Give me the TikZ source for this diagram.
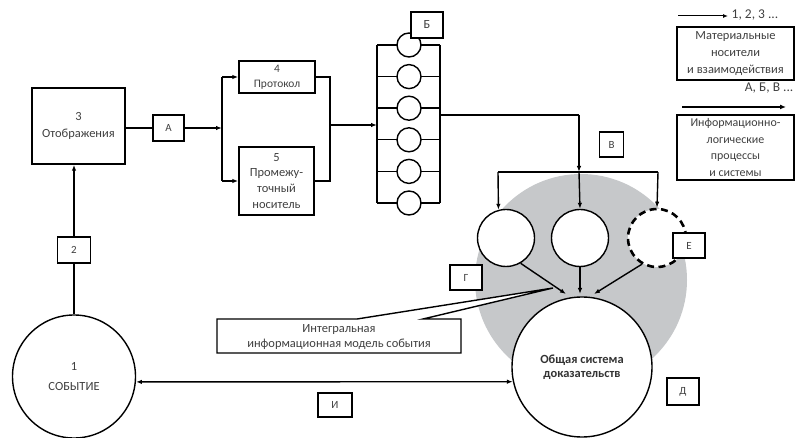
\documentclass[tikz,border=0pt]{standalone}
\usepackage{fontspec}
\setmainfont{Carlito}
\usetikzlibrary{arrows.meta}
\definecolor{discgray}{RGB}{198,200,202}
\begin{document}
\begin{tikzpicture}[x=1bp,y=-1bp,
  line width=1.4bp,
  box/.style={draw, fill=white, align=center, inner sep=1pt, font=\fontsize{12.5}{16}\selectfont, text=black!75},
  lbl/.style={draw, fill=white, minimum width=32bp, minimum height=26bp, inner sep=0pt, font=\fontsize{11}{12}\selectfont, text=black!75},
  circ/.style={draw, circle, fill=white, inner sep=0pt},
  arr/.style={-{Latex[length=6bp,width=4.5bp]}},
]
\useasboundingbox (0,0) rectangle (796,438);
% gray disc
\fill[discgray] (581,280) circle[radius=106bp];

% box 3
\node[box, minimum width=93bp, minimum height=76bp, font=\fontsize{12.5}{17}\selectfont] (b3) at (78.5,126) {3\\Отображения};
\node[lbl, minimum width=31bp] (bA) at (168.5,128) {А};
\node[box, minimum width=76bp, minimum height=32bp, font=\fontsize{11.5}{15}\selectfont] (b4) at (277,77) {4\\Протокол};
\node[box, minimum width=75bp, minimum height=68bp] (b5) at (276.5,181) {5\\Промежу-\\точный\\носитель};
\coordinate (jA) at (222,128);
\coordinate (j4) at (222,77);
\coordinate (j5) at (222,181);
\draw (b3.east |- bA) -- (bA.west);
\draw[arr] (bA.east) -- (jA);
\draw (j4) -- (j5);
\draw[arr] (j4) -- (b4.west);
\draw[arr] (j5) -- (b5.west);
\coordinate (k4) at (330,77);
\coordinate (k5) at (330,181);
\coordinate (kM) at (330,125);
\coordinate (ladIn) at (377,125);
\draw (b4.east) -- (k4) -- (k5) -- (b5.east);
\draw[arr] (kM) -- (ladIn);

% ladder
\coordinate (lt) at (377,45);
\coordinate (lb) at (377,203);
\coordinate (rt) at (440,45);
\coordinate (rb) at (440,203);
\draw (lt) -- (lb);
\draw (rt) -- (rb);
\foreach \i in {0,...,5} {
  \pgfmathsetmacro\yy{45+31.6*\i}
  \draw (377,\yy) -- (440,\yy);
  \node[circ, minimum size=24bp] (r\i) at (409,\yy) {};
}
\node[lbl, font=\fontsize{12.5}{13}\selectfont] (bB) at (427,25) {Б};

% output of ladder
\coordinate (lo) at (440,115);
\coordinate (lc) at (579,115);
\coordinate (jM) at (579,172);
\coordinate (jL) at (498,172);
\coordinate (jR) at (658,172);
\draw (lo) -- (lc);
\draw[arr] (lc) -- (jM);
\draw (jL) -- (jR);
\node[lbl, minimum width=24bp, minimum height=25bp] (bV) at (611.5,144.5) {В};

% small circles
\node[circ, minimum size=57bp] (cL) at (506,238) {};
\node[circ, minimum size=57bp] (cM) at (580,238) {};
\node[circ, minimum size=58bp, line width=2.6bp, dash pattern=on 7bp off 4.5bp] (cE) at (657,238) {};
\draw[arr] (jL) -- (cL.105);
\draw[arr] (jM) -- (cM.north);
\draw[arr] (jR) -- (cE.north);
\node[lbl, minimum width=32bp, minimum height=25bp] (bE) at (689,245.5) {Е};
\node[lbl, minimum width=32bp, minimum height=25bp] (bG) at (466,277.5) {Г};

% big circle D
\node[circ, minimum size=140bp, font=\bfseries\fontsize{12.5}{14}\selectfont, align=center, text=black!80] (D) at (582,367) {Общая система\\доказательств};
\coordinate (tL) at (566,294);
\coordinate (tM) at (580,294);
\coordinate (tR) at (594,294);
\draw[arr] (cL.-60) -- (tL);
\draw[arr] (cM.south) -- (tM);
\draw[arr] (cE.-120) -- (tR);
\node[lbl, minimum width=32bp, minimum height=27bp] (bD) at (683,391.5) {Д};

% callout
\coordinate (cp) at (553,288);
\draw[fill=white] (217,319) -- (357,319) -- (cp) -- (423,319) -- (461,319) -- (461,353) -- (217,353) -- cycle;
\node[align=center, font=\fontsize{12.5}{16}\selectfont, text=black!75] (int) at (339,337) {Интегральная\\информационная модель события};

% event circle
\node[circ, minimum size=123bp, align=center, font=\fontsize{12.5}{20}\selectfont, text=black!75] (c1) at (74,376.5) {1\\СОБЫТИЕ};
\node[lbl, minimum width=33bp, minimum height=26bp] (b2) at (74,250) {2};
\draw (c1.north) -- (b2.south);
\draw[arr] (b2.north) -- (b2.north |- b3.south);
\draw[{Latex[length=6bp,width=4.5bp]}-{Latex[length=6bp,width=4.5bp]}] (c1.-5) -- (D.192);
\node[lbl, minimum width=34bp, minimum height=24bp] (bI) at (335,405) {И};

% legend
\coordinate (la1) at (678,16);
\coordinate (la2) at (728,16);
\draw[line width=1bp, -{Latex[length=5bp,width=4bp]}] (la1) -- (la2);
\node[anchor=west, inner sep=0pt, font=\fontsize{13.5}{15}\selectfont, text=black!75] (l1t) at (731,15) {1, 2, 3 ...};
\node[draw, align=center, inner sep=0pt, minimum width=117bp, minimum height=53bp, font=\fontsize{12.5}{17}\selectfont, text=black!75] (lg1) at (735.5,53.5) {Материальные\\носители\\и взаимодействия};
\node[anchor=east, inner sep=0pt, font=\fontsize{13.5}{15}\selectfont, text=black!75] (l2t) at (794,88) {А, Б, В ...};
\coordinate (lb1) at (682,107);
\coordinate (lb2) at (786,107);
\draw[line width=2bp, -{Latex[length=6bp,width=5bp]}] (lb1) -- (lb2);
\node[draw, align=center, inner sep=0pt, minimum width=117bp, minimum height=65bp, font=\fontsize{12}{17}\selectfont, text=black!75] (lg2) at (735.5,147.5) {Информационно-\\логические\\процессы\\и системы};
\end{tikzpicture}
\end{document}
